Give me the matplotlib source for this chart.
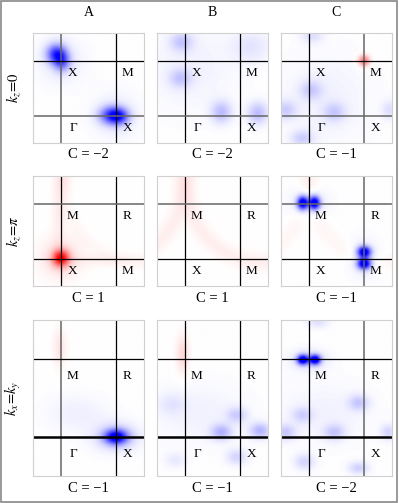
import numpy as np
import matplotlib
matplotlib.use("Agg")
from matplotlib import pyplot as plt
from matplotlib.colors import LinearSegmentedColormap
from matplotlib.patches import Rectangle

plt.rcParams['font.family'] = ['Liberation Serif', 'DejaVu Serif']
plt.rcParams['mathtext.fontset'] = 'stix'

column_titles = ['A', 'B', 'C']
row_titles = [r'$k_z\!=\!0$', r'$k_z\!=\!\pi$', r'$k_x\!=\!k_y$']
chern = [[-2, -2, -1],
         [1, 1, -1],
         [-1, -1, -2]]
# labels at the four line crossings: top-left, top-right, bottom-left, bottom-right
corner_labels = [['X', 'M', 'Γ', 'X'],
                 ['M', 'R', 'X', 'M'],
                 ['M', 'R', 'Γ', 'X']]

# spots: (x, y, amplitude, sigma_x, sigma_y), x,y as fraction of the panel, y from top
# negative = blue, positive = red
spots_A1 = [(0.21, 0.19, -0.75, 0.06, 0.06), (0.26, 0.26, -0.5, 0.05, 0.06),
            (0.71, 0.75, -0.7, 0.075, 0.055), (0.78, 0.76, -0.55, 0.06, 0.05),
            (0.25, 0.25, -0.08, 0.15, 0.15), (0.75, 0.75, -0.08, 0.15, 0.15)]
spots_B1 = [(0.22, 0.08, -0.2, 0.07, 0.06), (0.21, 0.41, -0.2, 0.07, 0.06),
            (0.58, 0.72, -0.25, 0.065, 0.07), (0.91, 0.73, -0.25, 0.065, 0.07),
            (0.85, 0.12, -0.1, 0.12, 0.1), (0.3, 0.3, -0.05, 0.3, 0.3)]
spots_C1 = [(0.75, 0.25, 0.55, 0.035, 0.035),
            (0.27, 0.52, -0.18, 0.07, 0.06), (0.48, 0.72, -0.18, 0.07, 0.06),
            (0.04, 0.70, -0.18, 0.07, 0.06), (0.19, 0.96, -0.18, 0.07, 0.05),
            (0.28, 0.02, -0.12, 0.07, 0.05), (0.98, 0.70, -0.12, 0.05, 0.06),
            (0.4, 0.6, -0.05, 0.3, 0.3)]
spots_A2 = [(0.25, 0.75, 0.9, 0.05, 0.05), (0.25, 0.75, 0.15, 0.12, 0.12),
            (0.23, 0.35, 0.07, 0.04, 0.25), (0.6, 0.77, 0.05, 0.25, 0.04),
            (0.27, 0.05, 0.06, 0.05, 0.08)]
spots_B2 = []
spots_C2 = [(0.195, 0.25, -1.2, 0.034, 0.04), (0.30, 0.25, -1.2, 0.034, 0.04),
            (0.75, 0.695, -1.2, 0.04, 0.034), (0.75, 0.80, -1.2, 0.04, 0.034),
            (0.25, 0.25, -0.1, 0.12, 0.09), (0.75, 0.75, -0.1, 0.09, 0.12)]
spots_A3 = [(0.75, 0.75, -1.0, 0.07, 0.045), (0.75, 0.75, -0.2, 0.14, 0.09),
            (0.24, 0.18, 0.1, 0.04, 0.12), (0.4, 0.6, -0.06, 0.2, 0.12)]
spots_B3 = [(0.23, 0.22, 0.15, 0.04, 0.12),
            (0.58, 0.72, -0.28, 0.065, 0.05), (0.93, 0.71, -0.28, 0.065, 0.05),
            (0.72, 0.61, -0.18, 0.065, 0.05), (0.72, 0.88, -0.16, 0.065, 0.05),
            (0.13, 0.54, -0.08, 0.09, 0.07), (0.16, 0.90, -0.08, 0.07, 0.05),
            (0.4, 0.6, -0.05, 0.3, 0.2)]
spots_C3 = [(0.195, 0.254, -1.2, 0.035, 0.03), (0.305, 0.254, -1.2, 0.035, 0.03),
            (0.25, 0.254, -0.12, 0.12, 0.07),
            (0.70, 0.53, -0.2, 0.065, 0.05), (0.48, 0.72, -0.2, 0.065, 0.05),
            (0.04, 0.72, -0.2, 0.065, 0.05), (0.19, 0.61, -0.16, 0.065, 0.05),
            (0.21, 0.91, -0.16, 0.065, 0.05), (0.70, 0.95, -0.18, 0.065, 0.04),
            (0.97, 0.72, -0.16, 0.05, 0.05), (0.33, 0.01, -0.12, 0.07, 0.04),
            (0.4, 0.6, -0.05, 0.3, 0.2)]

# faint arcs: (cx, cy, radius, width, amplitude)
rings_A2 = [(0.95, 0.1, 0.68, 0.07, 0.03)]
rings_B2 = [(0.95, 0.1, 0.68, 0.08, 0.065), (-0.45, 0.1, 0.68, 0.08, 0.065)]
rings_C2 = [(0.95, 0.1, 0.68, 0.08, 0.035), (-0.45, 0.1, 0.68, 0.08, 0.035)]

spots = [[spots_A1, spots_B1, spots_C1],
         [spots_A2, spots_B2, spots_C2],
         [spots_A3, spots_B3, spots_C3]]
rings = [[[], [], []],
         [rings_A2, rings_B2, rings_C2],
         [[], [], []]]

# line colours: left vertical, right vertical, top horizontal, bottom horizontal
dark = 'black'
grey = '#666666'
line_cols = [[(grey, dark, dark, grey), (dark, dark, dark, grey), (dark, grey, dark, grey)],
             [(dark, dark, grey, dark), (dark, dark, grey, dark), (dark, grey, grey, dark)],
             [(grey, dark, dark, dark), (dark, dark, dark, dark), (dark, grey, dark, dark)]]

W, H = 399, 503
col_x = [33, 157, 281]
row_y = [33, 176, 320]
row_h = [110, 110, 156]
pw = 111

cmap = LinearSegmentedColormap.from_list('bwr2', [(0, 0, 1), (1, 1, 1), (1, 0, 0)])

fig = plt.figure(figsize=(W / 100, H / 100), dpi=100)
fig.patches.append(Rectangle((1 / W, 1 / H), 1 - 3 / W, 1 - 2 / H, transform=fig.transFigure,
                             fill=False, edgecolor='#888888', linewidth=1.2))

for r in range(3):
    ratio = row_h[r] / pw
    nx = 200
    ny = int(200 * ratio)
    xs = np.linspace(0, 1, nx)
    ys = np.linspace(0, ratio, ny)
    X, Y = np.meshgrid(xs, ys)
    for c in range(3):
        field = np.zeros_like(X)
        for (x0, y0, a, sx, sy) in spots[r][c]:
            field += a * np.exp(-((X - x0) ** 2 / (2 * sx ** 2) + (Y - y0 * ratio) ** 2 / (2 * sy ** 2)))
        for (cx, cy, rad, wd, a) in rings[r][c]:
            d = np.sqrt((X - cx) ** 2 + (Y - cy * ratio) ** 2)
            field += a * np.exp(-((d - rad) / wd) ** 2)
        field = np.clip(field, -1, 1)

        ax = fig.add_axes([col_x[c] / W, 1 - (row_y[r] + row_h[r]) / H, pw / W, row_h[r] / H])
        ax.imshow(field, cmap=cmap, vmin=-1, vmax=1, extent=[0, 1, ratio, 0],
                  interpolation='bilinear', aspect='auto')
        ax.set_xlim(0, 1)
        ax.set_ylim(ratio, 0)
        ax.set_xticks([])
        ax.set_yticks([])
        for s in ax.spines.values():
            s.set_edgecolor('#d0d0d0')
            s.set_linewidth(0.8)

        lc = line_cols[r][c]
        ax.axvline(0.25, color=lc[0], lw=1.1 if lc[0] == grey else 0.9)
        ax.axvline(0.75, color=lc[1], lw=1.1 if lc[1] == grey else 0.9)
        ax.axhline(0.25 * ratio, color=lc[2], lw=1.1 if lc[2] == grey else 0.9)
        ax.axhline(0.75 * ratio, color=lc[3], lw=1.8 if r == 2 else (1.1 if lc[3] == grey else 0.9))

        lab = corner_labels[r]
        ly1 = 0.36 if r < 2 else 0.357
        ly2 = 0.86
        for (lx, ly, t) in [(0.36, ly1, lab[0]), (0.85, ly1, lab[1]),
                            (0.36, ly2, lab[2]), (0.85, ly2, lab[3])]:
            ax.text(lx, ly * ratio, t, ha='center', va='center', fontsize=9.5)

        cap = 'C = ' + str(chern[r][c]).replace('-', '\u2212')
        fig.text((col_x[c] + pw / 2) / W, 1 - (row_y[r] + row_h[r] + 12) / H, cap,
                 ha='center', va='center', fontsize=10.5)

for c in range(3):
    fig.text((col_x[c] + pw / 2) / W, 1 - 13 / H, column_titles[c],
             ha='center', va='center', fontsize=10)
for r in range(3):
    fig.text(13 / W, 1 - (row_y[r] + row_h[r] / 2) / H, row_titles[r],
             ha='center', va='center', rotation=90, fontsize=10.5)

fig.savefig('out.png', dpi=100)
